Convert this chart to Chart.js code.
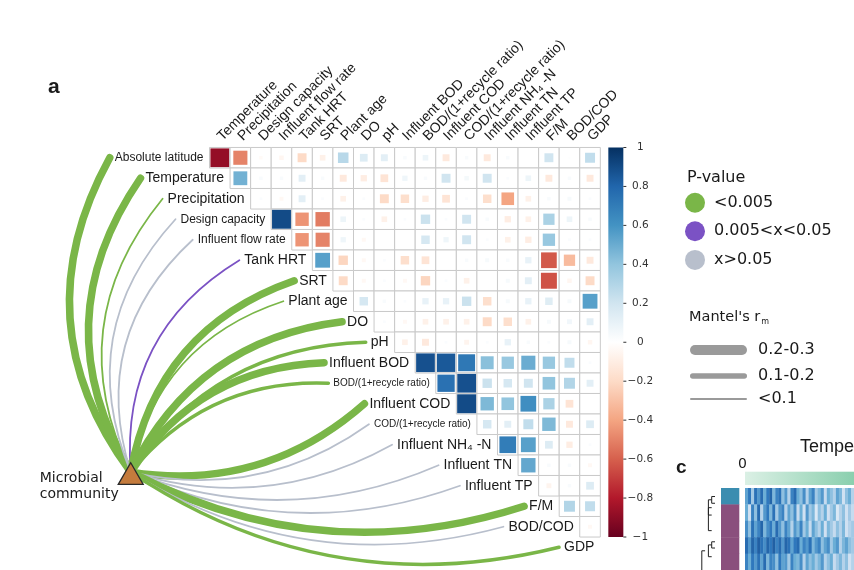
<!DOCTYPE html>
<html>
<head>
<meta charset="utf-8">
<script src="https://cdn.jsdelivr.net/npm/chart.js@4.4.1/dist/chart.umd.min.js"></script>
<style>
  html, body { margin: 0; padding: 0; background: #fff; }
  #wrap { width: 854px; height: 570px; position: relative; }
</style>
</head>
<body>
<div id="wrap"><canvas id="mantel"></canvas></div>
<script>
// variables in the order they sit down the diagonal
var variables = ['Absolute latitude', 'Temperature', 'Precipitation', 'Design capacity',
  'Influent flow rate', 'Tank HRT', 'SRT', 'Plant age', 'DO', 'pH', 'Influent BOD',
  'BOD/(1+recycle ratio)', 'Influent COD', 'COD/(1+recycle ratio)', 'Influent NH\u2084 -N',
  'Influent TN', 'Influent TP', 'F/M', 'BOD/COD', 'GDP']

// upper triangle, row i = r(variable i, variable j) for j = i+1 .. 19
var corrRows = [
  [-0.88, -0.5, -0.03, -0.05, -0.2, -0.08, 0.28, 0.15, 0.12, 0.03, 0.08, -0.12, 0.03, -0.12, 0.03, 0, 0.2, 0.01, 0.25],
  [0.48, 0.03, 0.03, 0.12, 0.03, -0.12, -0.1, -0.15, 0.07, 0.03, 0.2, 0.05, 0.2, 0.02, 0.08, -0.12, 0.03, -0.12],
  [0.02, -0.04, 0.12, 0.02, -0.08, 0.02, -0.2, -0.18, -0.1, -0.15, 0.02, -0.18, -0.4, -0.08, 0.03, 0.04, 0.02],
  [0.9, -0.45, -0.52, 0.08, 0.02, -0.08, 0.02, 0.22, 0.02, 0.2, 0.03, -0.1, -0.08, 0.32, 0.08, 0.03],
  [-0.45, -0.5, 0.07, -0.04, 0, 0, 0.18, 0.07, 0.2, 0.02, -0.08, -0.1, 0.38, 0.02, 0.02],
  [0.55, -0.22, -0.04, 0.02, -0.18, -0.15, 0, 0.03, 0.04, 0.03, 0.1, -0.62, -0.32, -0.12],
  [-0.2, -0.04, 0.02, -0.04, -0.22, 0.02, -0.08, 0, 0.04, 0.12, -0.64, -0.05, -0.2],
  [0.18, 0.03, 0.02, 0.1, 0.1, 0.22, -0.18, 0.04, 0.1, 0.14, 0.04, 0.55],
  [0.02, -0.04, -0.08, -0.08, -0.08, -0.2, -0.18, -0.08, 0.04, 0.06, 0.12],
  [-0.08, -0.12, 0.02, -0.06, 0.02, 0.1, 0.03, 0.02, 0.04, -0.05],
  [0.88, 0.85, 0.72, 0.42, 0.38, 0.5, 0.38, 0.25, 0.02],
  [0.75, 0.88, 0.22, 0.18, 0.2, 0.4, 0.3, 0.12],
  [0.9, 0.45, 0.4, 0.62, 0.32, -0.15, 0],
  [0.18, 0.12, 0.25, 0.45, -0.12, 0.15],
  [0.7, 0.55, 0.15, -0.1, 0.02],
  [0.52, 0.03, 0.03, -0.04],
  [-0.06, 0.03, 0.15],
  [0.3, 0.25],
  [-0.04]
]

// mantel test of the microbial community against each variable
var mantelP = ['<0.005', '<0.005', '<0.005', '>0.05', '>0.05', '0.005-0.05', '<0.005', '<0.005',
  '<0.005', '<0.005', '<0.005', '<0.005', '<0.005', '>0.05', '>0.05', '>0.05', '>0.05',
  '<0.005', '>0.05', '<0.005']
var mantelR = ['0.2-0.3', '0.2-0.3', '<0.1', '<0.1', '<0.1', '<0.1', '0.2-0.3', '<0.1',
  '0.2-0.3', '0.1-0.2', '0.2-0.3', '0.1-0.2', '0.2-0.3', '<0.1', '<0.1', '<0.1', '<0.1',
  '0.2-0.3', '<0.1', '0.1-0.2']

var colorbarTicks = [1, 0.8, 0.6, 0.4, 0.2, 0, -0.2, -0.4, -0.6, -0.8, -1]
var pLegend = ['<0.005', '0.005<x<0.05', 'x>0.05']
var rLegend = ['0.2-0.3', '0.1-0.2', '<0.1']

// panel c (cropped): sample groups and stripe values
var panelCTitle = 'Temperature'
var panelCTick = '0'
var panelCGroups = ['A', 'B', 'B', 'B', 'B']
var panelCValues = [
  [0.55, 0.75, 0.35, 0.8, 0.6, 0.85, 0.5, 0.75, 0.9, 0.45, 0.7, 0.8, 0.4, 0.6, 0.3, 0.7, 0.85, 0.5, 0.4, 0.65, 0.3, 0.55, 0.7, 0.35, 0.45, 0.6, 0.25, 0.5, 0.4, 0.3, 0.55, 0.45, 0.2, 0.4, 0.5, 0.3],
  [0.5, 0.2, 0.7, 0.4, 0.85, 0.3, 0.6, 0.75, 0.45, 0.8, 0.35, 0.6, 0.7, 0.3, 0.55, 0.4, 0.65, 0.25, 0.5, 0.2, 0.6, 0.35, 0.45, 0.15, 0.4, 0.3, 0.5, 0.2, 0.35, 0.45, 0.15, 0.3, 0.4, 0.2, 0.35, 0.25],
  [0.65, 0.4, 0.8, 0.55, 0.7, 0.9, 0.45, 0.65, 0.75, 0.5, 0.85, 0.6, 0.4, 0.7, 0.55, 0.3, 0.6, 0.45, 0.7, 0.35, 0.5, 0.25, 0.55, 0.4, 0.3, 0.5, 0.2, 0.45, 0.35, 0.25, 0.4, 0.3, 0.45, 0.2, 0.3, 0.35],
  [0.85, 0.6, 0.9, 0.7, 0.95, 0.8, 0.65, 0.9, 0.75, 0.95, 0.7, 0.85, 0.6, 0.9, 0.8, 0.55, 0.75, 0.85, 0.5, 0.7, 0.6, 0.8, 0.45, 0.6, 0.7, 0.4, 0.55, 0.65, 0.35, 0.5, 0.6, 0.3, 0.45, 0.55, 0.4, 0.35],
  [0.7, 0.5, 0.75, 0.6, 0.8, 0.55, 0.85, 0.45, 0.7, 0.65, 0.4, 0.75, 0.55, 0.6, 0.35, 0.7, 0.5, 0.45, 0.65, 0.3, 0.55, 0.4, 0.5, 0.35, 0.45, 0.6, 0.3, 0.4, 0.5, 0.25, 0.35, 0.45, 0.3, 0.4, 0.2, 0.3]
]
// [top row, bottom row, height] brackets of the row dendrogram
var panelCDendro = [[0.52, 0.93, 1], [0.72, 1.65, 2], [1.2, 2.6, 2], [3.28, 3.66, 1], [3.47, 4.19, 2], [3.83, 5.3, 4]]

// ---- layout / style ----
var W = 854, H = 570
var GRID_LEFT = 209.5, GRID_TOP = 147.5, CELL_W = 20.57, CELL_H = 20.5
var NODE = {x: -3.83, y: 16.08}
var PC_LEFT = 745, PC_TOP = 488, PC_STRIPE = 3.03, PC_ROW = 16.4

var pColors = {'<0.005': '#7ab648', '0.005-0.05': '#7b52c4', '>0.05': '#b8bfcc'}
var rWidths = {'0.2-0.3': 7.5, '0.1-0.2': 3.5, '<0.1': 1.8}
var smallLabels = {'Absolute latitude': 12, 'Design capacity': 12, 'Influent flow rate': 12,
  'BOD/(1+recycle ratio)': 10, 'COD/(1+recycle ratio)': 10}
var rdbuStops = ['#67001F', '#B2182B', '#D6604D', '#F4A582', '#FDDBC7', '#FFFFFF',
  '#D1E5F0', '#92C5DE', '#4393C3', '#2166AC', '#053061']
var bluesStops = ['#f7fbff', '#c6dbef', '#6baed6', '#2f78bd', '#1d5a9e']
var SANS = '"Liberation Sans", Arial, sans-serif'
var DEJA = '"DejaVu Sans", Verdana, sans-serif'

function hex(c) { return [parseInt(c.slice(1, 3), 16), parseInt(c.slice(3, 5), 16), parseInt(c.slice(5, 7), 16)] }
function ramp(stops, t) {
  t = Math.max(0, Math.min(1, t)) * (stops.length - 1)
  var i = Math.min(Math.floor(t), stops.length - 2), f = t - i
  var a = hex(stops[i]), b = hex(stops[i + 1])
  return 'rgb(' + a.map(function (v, k) { return Math.round(v + (b[k] - v) * f) }).join(',') + ')'
}
function rdbu(v) { return ramp(rdbuStops, (v + 1) / 2) }
function rowFont(name) { return (smallLabels[name] || 14) + 'px ' + SANS }

var cells = [], squares = []
corrRows.forEach(function (row, i) {
  row.forEach(function (r, k) {
    var j = i + k
    cells.push({x: j + 0.5, y: i + 0.5})
    squares.push({x: j + 0.5, y: i + 0.5, r: r})
  })
})

function cellPx(chart) {
  var xs = chart.scales.x
  return xs.getPixelForValue(1) - xs.getPixelForValue(0)
}

var mantelPlugin = {
  id: 'mantel',
  beforeDatasetsDraw: function (chart) {
    var ctx = chart.ctx, xs = chart.scales.x, ys = chart.scales.y, cb = chart.scales.cb
    // colour bar
    var bx = xs.getPixelForValue(19) + 8, top = cb.getPixelForValue(1), bot = cb.getPixelForValue(-1)
    var g = ctx.createLinearGradient(0, top, 0, bot)
    rdbuStops.slice().reverse().forEach(function (c, k) { g.addColorStop(k / 10, c) })
    ctx.fillStyle = g
    ctx.fillRect(bx, top, 15, bot - top)
    ctx.fillStyle = '#333'
    ctx.strokeStyle = '#333'
    ctx.lineWidth = 1
    ctx.font = '10.5px ' + DEJA
    ctx.textAlign = 'center'
    ctx.textBaseline = 'middle'
    colorbarTicks.forEach(function (v) {
      var py = cb.getPixelForValue(v)
      ctx.beginPath(); ctx.moveTo(bx + 15, py); ctx.lineTo(bx + 18, py); ctx.stroke()
      ctx.fillText(v < 0 ? '\u2212' + Math.abs(v) : String(v), bx + 32, py)
    })
    // links from the community node to each variable
    var sx = xs.getPixelForValue(NODE.x), sy = ys.getPixelForValue(NODE.y) - 5
    ctx.lineCap = 'round'
    variables.forEach(function (name, i) {
      ctx.font = rowFont(name)
      var right = xs.getPixelForValue(i) - 6
      var ex = right - ctx.measureText(name).width - 5
      var ey = ys.getPixelForValue(i + 0.5)
      var dx = ex - sx, dy = ey - sy, len = Math.sqrt(dx * dx + dy * dy)
      var px, py
      if (sy - ey > 0.36 * dx) { px = dy / len; py = -dx / len } else { px = -dy / len; py = dx / len }
      var bend = 0.2 + 0.12 * Math.abs(dy) / len
      var cx = (sx + ex) / 2 + px * len * bend, cy = (sy + ey) / 2 + py * len * bend
      ctx.strokeStyle = pColors[mantelP[i]]
      ctx.lineWidth = rWidths[mantelR[i]]
      ctx.beginPath()
      ctx.moveTo(sx, sy)
      ctx.quadraticCurveTo(cx, cy, ex, ey)
      ctx.stroke()
    })
    ctx.lineCap = 'butt'
  },
  afterDatasetsDraw: function (chart) {
    var ctx = chart.ctx, xs = chart.scales.x, ys = chart.scales.y
    ctx.fillStyle = '#1a1a1a'
    // row labels
    ctx.textAlign = 'right'
    ctx.textBaseline = 'middle'
    variables.forEach(function (name, i) {
      ctx.font = rowFont(name)
      ctx.fillText(name, xs.getPixelForValue(i) - 6, ys.getPixelForValue(i + 0.5))
    })
    // column labels
    ctx.textAlign = 'left'
    ctx.font = '14px ' + SANS
    variables.slice(1).forEach(function (name, j) {
      ctx.save()
      ctx.translate(xs.getPixelForValue(j + 0.5), ys.getPixelForValue(0) - 9)
      ctx.rotate(-Math.PI / 4)
      ctx.fillText(name, 0, 0)
      ctx.restore()
    })
    // node label
    var nx = xs.getPixelForValue(NODE.x), ny = ys.getPixelForValue(NODE.y)
    ctx.font = '14px ' + DEJA
    ctx.fillText('Microbial', nx - 91, ny + 1)
    ctx.fillText('community', nx - 91, ny + 17)
    // panel letter
    ctx.font = 'bold 21px ' + SANS
    ctx.textBaseline = 'alphabetic'
    ctx.fillText('a', 48, 93)

    // legend
    var lx = 687
    ctx.font = '16px ' + DEJA
    ctx.textBaseline = 'middle'
    ctx.fillText('P-value', lx, 178)
    var pKeys = ['<0.005', '0.005-0.05', '>0.05']
    pLegend.forEach(function (t, k) {
      var yy = 202.7 + k * 28.6
      ctx.fillStyle = pColors[pKeys[k]]
      ctx.beginPath(); ctx.arc(lx + 8, yy, 10, 0, Math.PI * 2); ctx.fill()
      ctx.fillStyle = '#1a1a1a'
      ctx.fillText(t, lx + 27, yy)
    })
    ctx.font = '14.5px ' + DEJA
    ctx.fillText("Mantel's r", lx + 2, 317)
    var mw = ctx.measureText("Mantel's r").width
    ctx.font = '8px ' + DEJA
    ctx.fillText('m', lx + 3 + mw, 322)
    var lw = [10, 5.5, 2]
    ctx.font = '16px ' + DEJA
    ctx.lineCap = 'round'
    rLegend.forEach(function (t, k) {
      var yy = [350, 376, 399][k]
      ctx.strokeStyle = '#9a9a9a'
      ctx.lineWidth = lw[k]
      ctx.beginPath(); ctx.moveTo(lx + 3 + lw[k] / 2, yy); ctx.lineTo(lx + 60 - lw[k] / 2, yy); ctx.stroke()
      ctx.fillText(t, lx + 71, yy)
    })
    ctx.lineCap = 'butt'

    // panel c (cropped)
    var xc = chart.scales.xc, yc = chart.scales.yc
    var x0 = xc.getPixelForValue(0), y0 = yc.getPixelForValue(0)
    var sw = xc.getPixelForValue(1) - x0, rh = yc.getPixelForValue(1) - y0
    panelCValues.forEach(function (row, r) {
      row.forEach(function (v, c) {
        ctx.fillStyle = ramp(bluesStops, v)
        ctx.fillRect(xc.getPixelForValue(c), yc.getPixelForValue(r), sw + 0.4, rh + 0.4)
      })
      ctx.fillStyle = panelCGroups[r] === 'A' ? '#3b8db0' : '#8a4f7d'
      ctx.fillRect(x0 - 24, yc.getPixelForValue(r), 18.3, rh + 0.4)
    })
    var gb = ctx.createLinearGradient(x0, 0, W, 0)
    gb.addColorStop(0, '#dbf0e5')
    gb.addColorStop(1, '#8acfae')
    ctx.fillStyle = gb
    ctx.fillRect(x0, y0 - 16.3, W - x0, 13.3)
    ctx.strokeStyle = '#222'
    ctx.lineWidth = 1
    var dRight = x0 - 30
    panelCDendro.forEach(function (d) {
      var vx = dRight - d[2] * 3.3, ya = yc.getPixelForValue(d[0]), yb = yc.getPixelForValue(d[1])
      ctx.beginPath()
      ctx.moveTo(vx + 3.3, ya); ctx.lineTo(vx, ya); ctx.lineTo(vx, yb); ctx.lineTo(vx + 3.3, yb)
      ctx.stroke()
    })
    ctx.fillStyle = '#1a1a1a'
    ctx.textBaseline = 'alphabetic'
    ctx.font = 'bold 19px ' + SANS
    ctx.textAlign = 'left'
    ctx.fillText('c', 676, 473)
    ctx.font = '14px ' + DEJA
    ctx.textAlign = 'center'
    ctx.fillText(panelCTick, x0 - 2.5, 468)
    ctx.font = '18px ' + SANS
    ctx.textAlign = 'left'
    ctx.fillText(panelCTitle, 800, 452)
  }
}

var cbUnit = (CELL_H * 19) / 2
var cbMax = 1 + GRID_TOP / cbUnit

var ctx = document.getElementById('mantel').getContext('2d')
new Chart(ctx, {
  type: 'scatter',
  data: {
    datasets: [{
      label: 'cells',
      data: cells,
      order: 3,
      pointStyle: 'rect',
      pointRadius: function (c) { return cellPx(c.chart) / Math.SQRT2 },
      pointBackgroundColor: '#ffffff',
      pointBorderColor: '#c9c9c9',
      pointBorderWidth: 1
    }, {
      label: 'correlation',
      data: squares,
      order: 2,
      pointStyle: 'rect',
      pointRadius: function (c) { return Math.sqrt(Math.abs(c.raw.r)) * cellPx(c.chart) * 0.97 / Math.SQRT2 },
      pointBackgroundColor: function (c) { return rdbu(c.raw.r) },
      pointBorderWidth: 0
    }, {
      label: 'Microbial community',
      data: [NODE],
      order: 1,
      pointStyle: 'triangle',
      pointRadius: 14.4,
      pointBackgroundColor: '#c47b3d',
      pointBorderColor: '#2a2a2a',
      pointBorderWidth: 1.3
    }]
  },
  options: {
    responsive: true,
    maintainAspectRatio: false,
    animation: false,
    events: [],
    layout: {padding: 0, autoPadding: false},
    plugins: {legend: {display: false}, tooltip: {enabled: false}},
    scales: {
      x: {type: 'linear', display: false, min: -GRID_LEFT / CELL_W, max: (W - GRID_LEFT) / CELL_W},
      y: {type: 'linear', display: false, reverse: true, min: -GRID_TOP / CELL_H, max: (H - GRID_TOP) / CELL_H},
      cb: {type: 'linear', axis: 'y', display: false, min: cbMax - H / cbUnit, max: cbMax},
      xc: {type: 'linear', axis: 'x', display: false, min: -PC_LEFT / PC_STRIPE, max: (W - PC_LEFT) / PC_STRIPE},
      yc: {type: 'linear', axis: 'y', display: false, reverse: true, min: -PC_TOP / PC_ROW, max: (H - PC_TOP) / PC_ROW}
    }
  },
  plugins: [mantelPlugin]
})
</script>
</body>
</html>
